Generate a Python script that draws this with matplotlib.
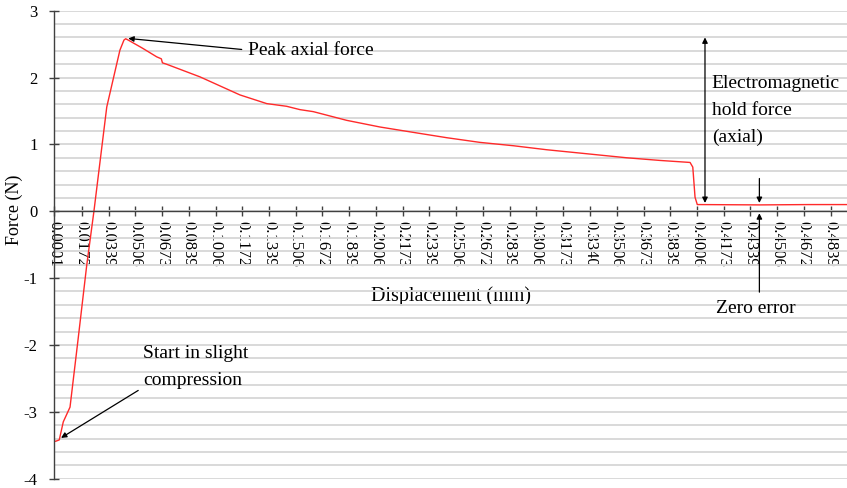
import numpy as np
import matplotlib
matplotlib.use("Agg")
import matplotlib.pyplot as plt

# Measured force-displacement trace
displacement_mm = [0.0001, 0.0010, 0.0032, 0.0057, 0.0099, 0.0150, 0.0203, 0.0248,
                   0.0328, 0.0380, 0.0410, 0.0435, 0.0446, 0.0462, 0.0550, 0.0639,
                   0.0668, 0.0675, 0.0700, 0.0909, 0.1158, 0.1325, 0.1449, 0.1532,
                   0.1615, 0.1823, 0.2031, 0.2238, 0.2447, 0.2654, 0.2862, 0.3070,
                   0.3278, 0.3568, 0.3776, 0.3963, 0.3980, 0.3994, 0.4008, 0.4024,
                   0.4398, 0.4700, 0.4941]
force_N = [-3.44, -3.44, -3.42, -3.15, -2.93, -1.90, -0.81, 0.00,
           1.56, 2.10, 2.41, 2.56, 2.58, 2.56, 2.44, 2.31,
           2.28, 2.22, 2.20, 2.01, 1.74, 1.61, 1.57, 1.52,
           1.49, 1.36, 1.26, 1.18, 1.10, 1.03, 0.98, 0.92,
           0.87, 0.80, 0.76, 0.73, 0.66, 0.21, 0.10, 0.10,
           0.095, 0.10, 0.10]

x_tick_labels = ["0.0001", "0.0172", "0.0339", "0.0506", "0.0673", "0.0839",
                 "0.1006", "0.1172", "0.1339", "0.1506", "0.1672", "0.1839",
                 "0.2006", "0.2173", "0.2339", "0.2506", "0.2672", "0.2839",
                 "0.3006", "0.3173", "0.3340", "0.3506", "0.3673", "0.3839",
                 "0.4006", "0.4173", "0.4339", "0.4506", "0.4672", "0.4839"]
y_ticks = [-4, -3, -2, -1, 0, 1, 2, 3]

SERIF = ["Liberation Serif", "DejaVu Serif"]
plt.rcParams["font.family"] = SERIF

fig = plt.figure(figsize=(8.47, 4.88), dpi=100)
ax = fig.add_axes([0.0641, 0.0191, 0.9359, 0.959])

axis_col = "#404040"
ax.set_xlim(0.0001, 0.4941)
ax.set_ylim(-4, 3)

# Horizontal gridlines every 0.2 N
ax.set_yticks(y_ticks)
ax.set_yticks(np.arange(-4, 3.001, 0.2), minor=True)
ax.grid(True, axis="y", which="both", color="#d9d9d9", linewidth=1.4, zorder=0)
ax.set_axisbelow(True)

ax.plot(displacement_mm, force_N, color="#ff2a2a", linewidth=1.0, zorder=3)

# Spines: vertical axis on the left, horizontal axis through zero
for s in ("top", "right"):
    ax.spines[s].set_visible(False)
ax.spines["bottom"].set_position(("data", 0))
for s in ("left", "bottom"):
    ax.spines[s].set_color(axis_col)
    ax.spines[s].set_linewidth(1.0)
    ax.spines[s].set_zorder(4)

ax.set_xticks([float(t) for t in x_tick_labels])
ax.set_xticklabels(x_tick_labels, rotation=-90, fontsize=12, va="top", ha="center")
ax.set_yticklabels([str(v) for v in y_ticks], fontsize=12)
ax.tick_params(axis="x", which="major", direction="inout", length=7.2, width=1.0,
               color=axis_col, pad=3.6)
ax.tick_params(axis="y", which="major", direction="inout", length=7.2, width=1.0,
               color=axis_col, pad=8.5)
ax.tick_params(axis="y", which="minor", length=0)

ax.set_ylabel("Force (N)", fontsize=13)
ax.yaxis.set_label_coords(-0.0508, 0.574)
ax.yaxis.label.set_verticalalignment("center")
ax.set_xlabel("Displacement (mm)", fontsize=14.5)
ax.xaxis.set_label_coords(0.501, 0.389)
ax.xaxis.label.set_verticalalignment("center")

arrow = dict(arrowstyle="-|>", color="black", lw=0.9, mutation_scale=8,
             shrinkA=0, shrinkB=0)
both = dict(arrowstyle="<|-|>", color="black", lw=0.9, mutation_scale=8,
            shrinkA=0, shrinkB=0)

# Peak
ax.annotate("", xy=(0.0462, 2.585), xytext=(0.1169, 2.42), arrowprops=arrow, zorder=5)
ax.text(0.1208, 2.41, "Peak axial force", fontsize=14, ha="left", va="center")

# Hold force span
ax.annotate("", xy=(0.4056, 0.124), xytext=(0.4056, 2.60), arrowprops=both, zorder=5)
ax.text(0.4098, 1.91, "Electromagnetic", fontsize=14, ha="left", va="center")
ax.text(0.4098, 1.51, "hold force", fontsize=14, ha="left", va="center")
ax.text(0.4098, 1.11, "(axial)", fontsize=14, ha="left", va="center")

# Zero offset
ax.annotate("", xy=(0.4395, 0.124), xytext=(0.4395, 0.49), arrowprops=arrow, zorder=5)
ax.annotate("", xy=(0.4395, -0.03), xytext=(0.4395, -1.21), arrowprops=arrow, zorder=5)
ax.text(0.4374, -1.45, "Zero error", fontsize=14, ha="center", va="center")

# Starting point
ax.annotate("", xy=(0.0043, -3.39), xytext=(0.0524, -2.68), arrowprops=arrow, zorder=5)
ax.text(0.0556, -2.13, "Start in slight", fontsize=14, ha="left", va="center")
ax.text(0.0556, -2.53, "compression", fontsize=14, ha="left", va="center")

fig.savefig("out.png", dpi=100)
